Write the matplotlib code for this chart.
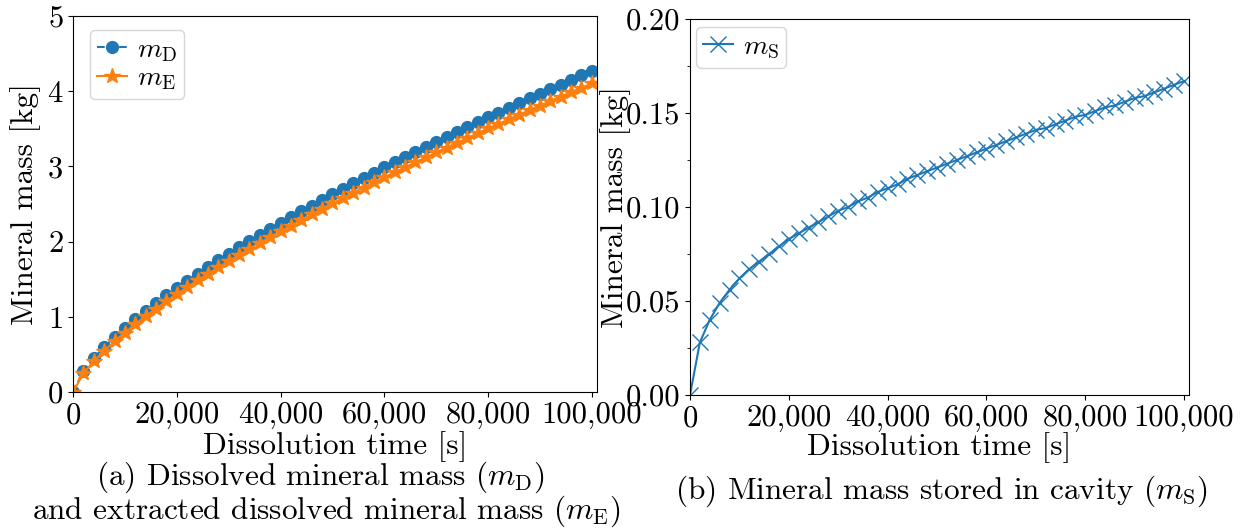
import matplotlib
matplotlib.use('Agg')
import matplotlib.pyplot as plt
from matplotlib.ticker import FuncFormatter, MultipleLocator

plt.rcParams['font.family'] = 'serif'
plt.rcParams['font.serif'] = ['cmr10']
plt.rcParams['mathtext.fontset'] = 'cm'
plt.rcParams['axes.formatter.use_mathtext'] = True
plt.rcParams['axes.unicode_minus'] = False

# dissolution time [s], one sample every 2000 s
tiempo = [2000 * k for k in range(51)]

m_D = [0.0, 0.276, 0.449, 0.596, 0.729, 0.852, 0.968, 1.079, 1.184, 1.286,
       1.384, 1.480, 1.573, 1.663, 1.752, 1.838, 1.923, 2.007, 2.089, 2.169,
       2.249, 2.326, 2.403, 2.479, 2.554, 2.629, 2.702, 2.774, 2.846, 2.917,
       2.987, 3.056, 3.124, 3.192, 3.259, 3.326, 3.393, 3.458, 3.524, 3.589,
       3.653, 3.716, 3.779, 3.842, 3.904, 3.966, 4.028, 4.089, 4.150, 4.210,
       4.270]

m_E = [0.0, 0.248, 0.409, 0.547, 0.673, 0.790, 0.901, 1.008, 1.109, 1.207,
       1.301, 1.394, 1.484, 1.571, 1.657, 1.740, 1.823, 1.904, 1.984, 2.061,
       2.139, 2.214, 2.288, 2.362, 2.435, 2.508, 2.579, 2.649, 2.719, 2.788,
       2.856, 2.923, 2.989, 3.055, 3.120, 3.185, 3.251, 3.314, 3.378, 3.441,
       3.504, 3.565, 3.626, 3.688, 3.748, 3.808, 3.869, 3.928, 3.987, 4.045,
       4.103]

m_S = [0.0, 0.028, 0.040, 0.049, 0.056, 0.062, 0.067, 0.071, 0.075, 0.079,
       0.083, 0.086, 0.089, 0.092, 0.095, 0.098, 0.100, 0.103, 0.105, 0.108,
       0.110, 0.112, 0.115, 0.117, 0.119, 0.121, 0.123, 0.125, 0.127, 0.129,
       0.131, 0.133, 0.135, 0.137, 0.139, 0.141, 0.142, 0.144, 0.146, 0.148,
       0.149, 0.151, 0.153, 0.154, 0.156, 0.158, 0.159, 0.161, 0.163, 0.165,
       0.167]

x_ticks = [0, 20000, 40000, 60000, 80000, 100000]
fs = 22

fig = plt.figure(figsize=(12.48, 5.29), dpi=100)
W, H = 1248, 529

def px_axes(left, top, right, bottom):
    return fig.add_axes([left / W, 1 - bottom / H, (right - left) / W, (bottom - top) / H])

miles = FuncFormatter(lambda v, p: f"{v:,.0f}")
leg_kw = dict(loc='upper left', fontsize=20, handlelength=1.1, handletextpad=0.35,
              borderpad=0.25, labelspacing=0.05, borderaxespad=0.0)

# (a) dissolved / extracted
ax1 = px_axes(73, 16, 597, 392)
ax1.plot(tiempo, m_D, '--o', color='#1f77b4', markersize=8.5, label=r'$m_\mathrm{D}$')
ax1.plot(tiempo, m_E, '-*', color='#ff7f0e', markersize=11.5, label=r'$m_\mathrm{E}$')
ax1.set_xlim(0, 101000)
ax1.set_ylim(0, 5)
ax1.set_xticks(x_ticks)
ax1.xaxis.set_major_formatter(miles)
ax1.set_yticks([0, 1, 2, 3, 4, 5])
ax1.tick_params(labelsize=fs)
ax1.set_ylabel('Mineral mass [kg]', fontsize=22.5)
ax1.yaxis.set_label_coords(-0.061, 0.5)
ax1.set_xlabel('Dissolution time [s]', fontsize=22.5)
ax1.xaxis.set_label_coords(0.5, -0.103)
ax1.legend(bbox_to_anchor=(0.032, 0.963), **leg_kw)

# (b) stored in cavity
ax2 = px_axes(690, 19, 1189, 395)
ax2.plot(tiempo, m_S, '-x', color='#1f77b4', markersize=11, label=r'$m_\mathrm{S}$')
ax2.set_xlim(0, 101000)
ax2.set_ylim(0, 0.2)
ax2.set_xticks(x_ticks)
ax2.xaxis.set_major_formatter(miles)
ax2.yaxis.set_major_locator(MultipleLocator(0.05))
ax2.yaxis.set_minor_locator(MultipleLocator(0.025))
ax2.yaxis.set_major_formatter(FuncFormatter(lambda v, p: f"{v:.2f}"))
ax2.tick_params(labelsize=fs)
ax2.set_ylabel('Mineral mass [kg]', fontsize=22.5)
ax2.yaxis.set_label_coords(-0.118, 0.5)
ax2.set_xlabel('Dissolution time [s]', fontsize=22.5)
ax2.xaxis.set_label_coords(0.5, -0.098)
ax2.legend(bbox_to_anchor=(0.012, 0.979), **leg_kw)

fig.text(320 / W, 1 - 477 / H, r'(a) Dissolved mineral mass ($m_\mathrm{D}$)',
         fontsize=22.5, ha='center', va='center')
fig.text(326 / W, 1 - 511 / H, r'and extracted dissolved mineral mass ($m_\mathrm{E}$)',
         fontsize=22.5, ha='center', va='center')
fig.text(941 / W, 1 - 491 / H, r'(b) Mineral mass stored in cavity ($m_\mathrm{S}$)',
         fontsize=22.5, ha='center', va='center')

fig.savefig('out.png', dpi=100)
plt.close(fig)
